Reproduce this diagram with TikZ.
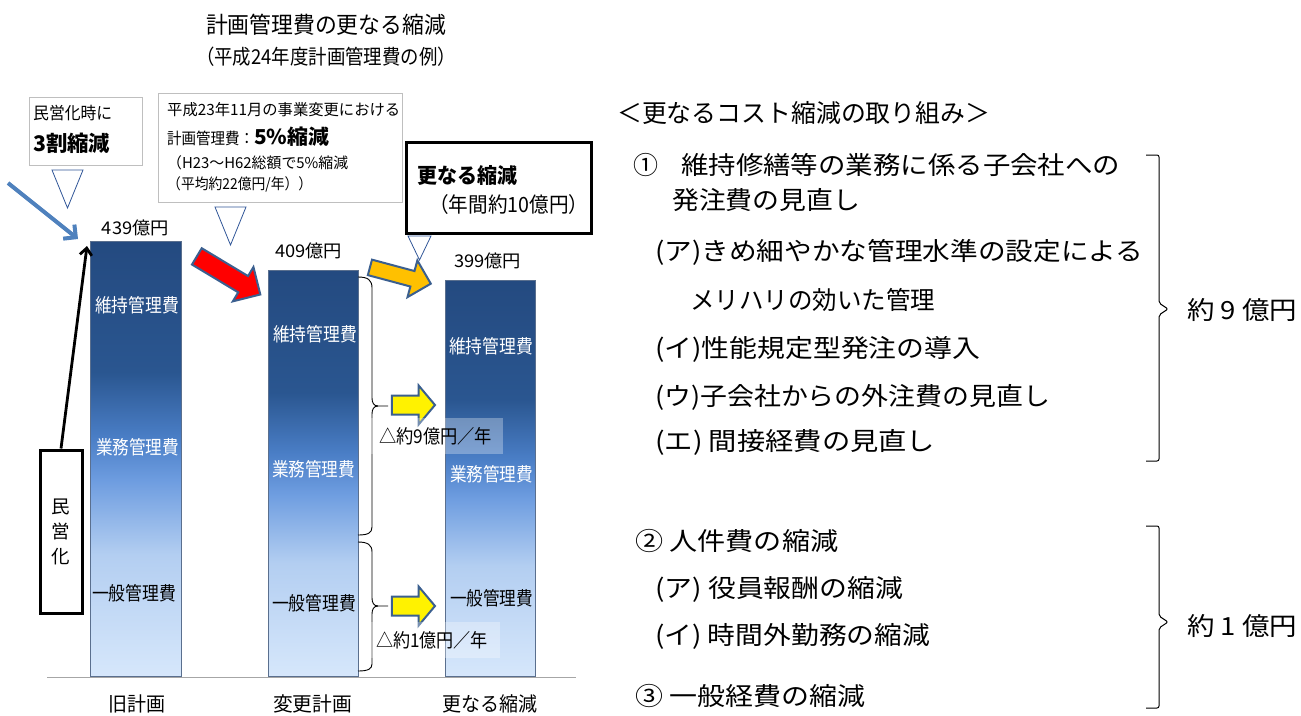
\documentclass[tikz,border=0pt]{standalone}
\usepackage{fontspec}
\usepackage{graphicx}
\newfontfamily\jp{Noto Sans CJK JP}
\usetikzlibrary{shapes.arrows,arrows.meta}
\newcommand\fs[1]{\fontsize{#1}{#1}\selectfont}
\newcommand\W[2]{\resizebox{#1pt}{\height}{#2}}
\definecolor{bc0}{HTML}{244A80}
\definecolor{bc1}{HTML}{2A5690}
\definecolor{bc2}{HTML}{4A7EC6}
\definecolor{bc3}{HTML}{6E9DE0}
\definecolor{bc4}{HTML}{B3CEF1}
\definecolor{bc5}{HTML}{D6E7FB}
\definecolor{baredge}{HTML}{5A6F8E}
\definecolor{arredge}{HTML}{3B5F8F}
\definecolor{triblue}{HTML}{2F5597}
\definecolor{bluearr}{HTML}{4F81BD}
\definecolor{orangearr}{HTML}{FFC000}
\definecolor{gboxc}{HTML}{BFBFBF}
\pgfdeclareverticalshading{barshade}{100bp}{color(0bp)=(bc5); color(25bp)=(bc5); color(39bp)=(bc4); color(47.5bp)=(bc3); color(52.5bp)=(bc2); color(60bp)=(bc1); color(75bp)=(bc0); color(100bp)=(bc0)}
\tikzset{
  bar/.style={draw=baredge, line width=1pt, shading=barshade, anchor=south west, inner sep=0pt},
  gbox/.style={draw=gboxc, line width=1pt, inner sep=0pt},
  kbox/.style={draw=black, line width=3pt, inner sep=0pt},
  lt/.style={anchor=west, inner sep=0pt},
  ct/.style={inner sep=0pt},
  wlab/.style={inner sep=0pt, text=white, font=\jp\fs{19}},
  blab/.style={inner sep=0pt, text=black, font=\jp\fs{19}},
  tri/.style={draw=triblue, line width=0.8pt},
  blockarrow/.style={single arrow, draw=arredge, line width=2pt, inner xsep=0pt, minimum width=0pt},
  lbrace/.style={draw=black, line width=0.9pt},
  rbrace/.style={draw=black, line width=1pt, rounded corners=2pt},
  rt/.style={anchor=west, inner sep=0pt, font=\jp\fs{25}},
  dlab/.style={inner sep=0pt, fill=white, fill opacity=0.3, text opacity=1, font=\jp\fs{19}}
}
\begin{document}
\begin{tikzpicture}[x=1pt,y=-1pt,font=\jp]
\useasboundingbox (0,0) rectangle (1301,715);
% title
\node[ct, font=\jp\fs{23}] (title) at (326,25) {\W{240}{計画管理費の更なる縮減}};
\node[ct, font=\jp\fs{20.5}] (sub) at (326,57) {\W{260}{（平成24年度計画管理費の例）}};
% box 1
\node[gbox, minimum width=113pt, minimum height=68pt] (box1) at (85.5,131) {};
\node[lt, font=\jp\fs{17}] (box1a) at (33,113) {\W{79}{民営化時に}};
\node[lt, font=\jp\bfseries\fs{21.5}] (box1b) at (33,143) {\W{77}{3割縮減}};
\draw[tri] (52,170) -- (83,170) -- (67.5,208) -- cycle;
% box 2
\node[gbox, minimum width=244pt, minimum height=109pt] (box2) at (280,147.5) {};
\node[lt, font=\jp\fs{15.5}] (box2a) at (167,110) {\W{233}{平成23年11月の事業変更における}};
\node[lt, font=\jp\fs{16}] (box2b) at (167,137) {\W{87}{計画管理費：}\W{75}{\bfseries\fs{20.5}5\%縮減}};
\node[lt, font=\jp\fs{15}] (box2c) at (167,163) {\W{181}{（H23～H62総額で5\%縮減}};
\node[lt, font=\jp\fs{15}] (box2d) at (167,184) {\W{145}{（平均約22億円/年））}};
\draw[tri] (215,207) -- (246,207) -- (230.5,245) -- cycle;
% box 3
\node[kbox, minimum width=185pt, minimum height=91pt] (box3) at (498.5,187.5) {};
\node[lt, font=\jp\bfseries\fs{21}] (box3a) at (417,175) {\W{100}{更なる縮減}};
\node[lt, font=\jp\fs{21}] (box3b) at (429,205) {\W{159}{（年間約10億円）}};
\draw[tri] (408,236) -- (431,236) -- (419.5,260) -- cycle;
% bars
\node[bar, minimum width=91pt, minimum height=435pt] (b1) at (90,677) {};
\node[bar, minimum width=90pt, minimum height=406pt] (b2) at (268,677) {};
\node[bar, minimum width=90pt, minimum height=396pt] (b3) at (445,677) {};
\draw[draw=gray!70, line width=1pt] (47,677) -- (576,677);
% values
\node[ct, font=\jp\fs{17.5}] (v1) at (135.5,228) {\W{67}{439億円}};
\node[ct, font=\jp\fs{17.5}] (v2) at (308.5,251) {\W{67}{409億円}};
\node[ct, font=\jp\fs{17.5}] (v3) at (487.5,261) {\W{67}{399億円}};
% bar labels
\node[wlab] (l11) at (137,305) {\W{84}{維持管理費}};
\node[wlab] (l12) at (137.5,447) {\W{83}{業務管理費}};
\node[blab] (l13) at (134,593) {\W{84}{一般管理費}};
\node[wlab] (l21) at (315,334) {\W{84}{維持管理費}};
\node[wlab] (l22) at (313.5,469) {\W{83}{業務管理費}};
\node[blab] (l23) at (314,603) {\W{84}{一般管理費}};
\node[wlab] (l31) at (491,346) {\W{84}{維持管理費}};
\node[wlab] (l32) at (491.5,474) {\W{83}{業務管理費}};
\node[blab] (l33) at (491.5,598) {\W{83}{一般管理費}};
% bottom labels
\node[ct, font=\jp\fs{20}] (x1) at (136.5,704) {\W{57}{旧計画}};
\node[ct, font=\jp\fs{20}] (x2) at (312.5,704) {\W{79}{変更計画}};
\node[ct, font=\jp\fs{20}] (x3) at (489.5,704) {\W{95}{更なる縮減}};
% minei box and arrows
\node[kbox, minimum width=42pt, minimum height=163pt] (pv) at (61,531.5) {};
\node[ct, align=center, font=\jp\fontsize{18.5}{25}\selectfont] (pvt) at (61,532) {民\\営\\化};
\coordinate (blackend) at (87,246);
\draw[line width=2.8pt, -{Straight Barb[length=7pt,width=12pt]}] (pv.north) -- (blackend);
\coordinate (bluestart) at (8,183);
\coordinate (blueend) at (78,239);
\draw[line width=4pt, bluearr, -{Straight Barb[length=9pt,width=18pt]}] (bluestart) -- (blueend);
% block arrows
\node[blockarrow, fill=red, inner ysep=8.5pt, single arrow head extend=10.5pt, minimum height=74pt, rotate=-31] (ra) at (224.5,273) {};
\node[blockarrow, fill=orangearr, inner ysep=7pt, single arrow head extend=11pt, minimum height=63pt, rotate=-15] (oa) at (396.5,274.5) {};
\node[blockarrow, fill=yellow, inner ysep=8.5pt, single arrow head extend=10pt, single arrow tip angle=100, minimum height=43pt] (ya1) at (409.5,405) {};
\node[blockarrow, fill=yellow, inner ysep=8.5pt, single arrow head extend=10pt, single arrow tip angle=100, minimum height=43pt] (ya2) at (409.5,606) {};
% left braces
\draw[lbrace] (358,277) .. controls (368,277) and (372,280) .. (372,288) -- (372,398) .. controls (372,403) and (374,406) .. (378,406) -- (388,406);
\draw[lbrace] (378,406) .. controls (374,406) and (372,409) .. (372,414) -- (372,527) .. controls (372,533) and (368,535) .. (358,535);
\draw[lbrace] (358,542) .. controls (368,542) and (372,545) .. (372,552) -- (372,598) .. controls (372,603) and (374,606) .. (378,606) -- (388,606);
\draw[lbrace] (378,606) .. controls (374,606) and (372,609) .. (372,614) -- (372,664) .. controls (372,669) and (368,671) .. (358,671);
% delta labels
\node[dlab, minimum width=135pt, minimum height=36pt] (d1) at (435.5,436) {\W{113}{△約9億円／年}};
\node[dlab, minimum width=136pt, minimum height=36pt] (d2) at (432,640) {\W{112}{△約1億円／年}};
% right side
\node[rt] (r0) at (617,113) {\W{373}{＜更なるコスト縮減の取り組み＞}};
\node[rt] (r1n) at (633,165) {①};
\node[rt] (r1) at (681,165) {\W{439}{維持修繕等の業務に係る子会社への}};
\node[rt] (r1b) at (672,200) {\W{188}{発注費の見直し}};
\node[rt] (r1a) at (655,252) {\W{488}{(ア)きめ細やかな管理水準の設定による}};
\node[rt] (r1a2) at (690,300) {\W{245}{メリハリの効いた管理}};
\node[rt] (r1i) at (655,349) {\W{325}{(イ)性能規定型発注の導入}};
\node[rt] (r1u) at (655,397) {\W{395}{(ウ)子会社からの外注費の見直し}};
\node[rt] (r1e) at (655,442) {\W{280}{(エ) 間接経費の見直し}};
\node[rt] (r2) at (635,541) {\W{203}{② 人件費の縮減}};
\node[rt] (r2a) at (655,589) {\W{248}{(ア) 役員報酬の縮減}};
\node[rt] (r2i) at (655,636) {\W{275}{(イ) 時間外勤務の縮減}};
\node[rt] (r3) at (635,696) {\W{230}{③ 一般経費の縮減}};
\draw[rbrace] (1146,155) -- (1159,155) -- (1159,303) -- (1168,309) -- (1159,315) -- (1159,461) -- (1146,461);
\draw[rbrace] (1146,526) -- (1159,526) -- (1159,616) -- (1168,622) -- (1159,628) -- (1159,708) -- (1146,708);
\node[rt] (s1) at (1187,310) {\W{110}{約 9 億円}};
\node[rt] (s2) at (1187,626) {\W{110}{約 1 億円}};
\end{tikzpicture}
\end{document}
